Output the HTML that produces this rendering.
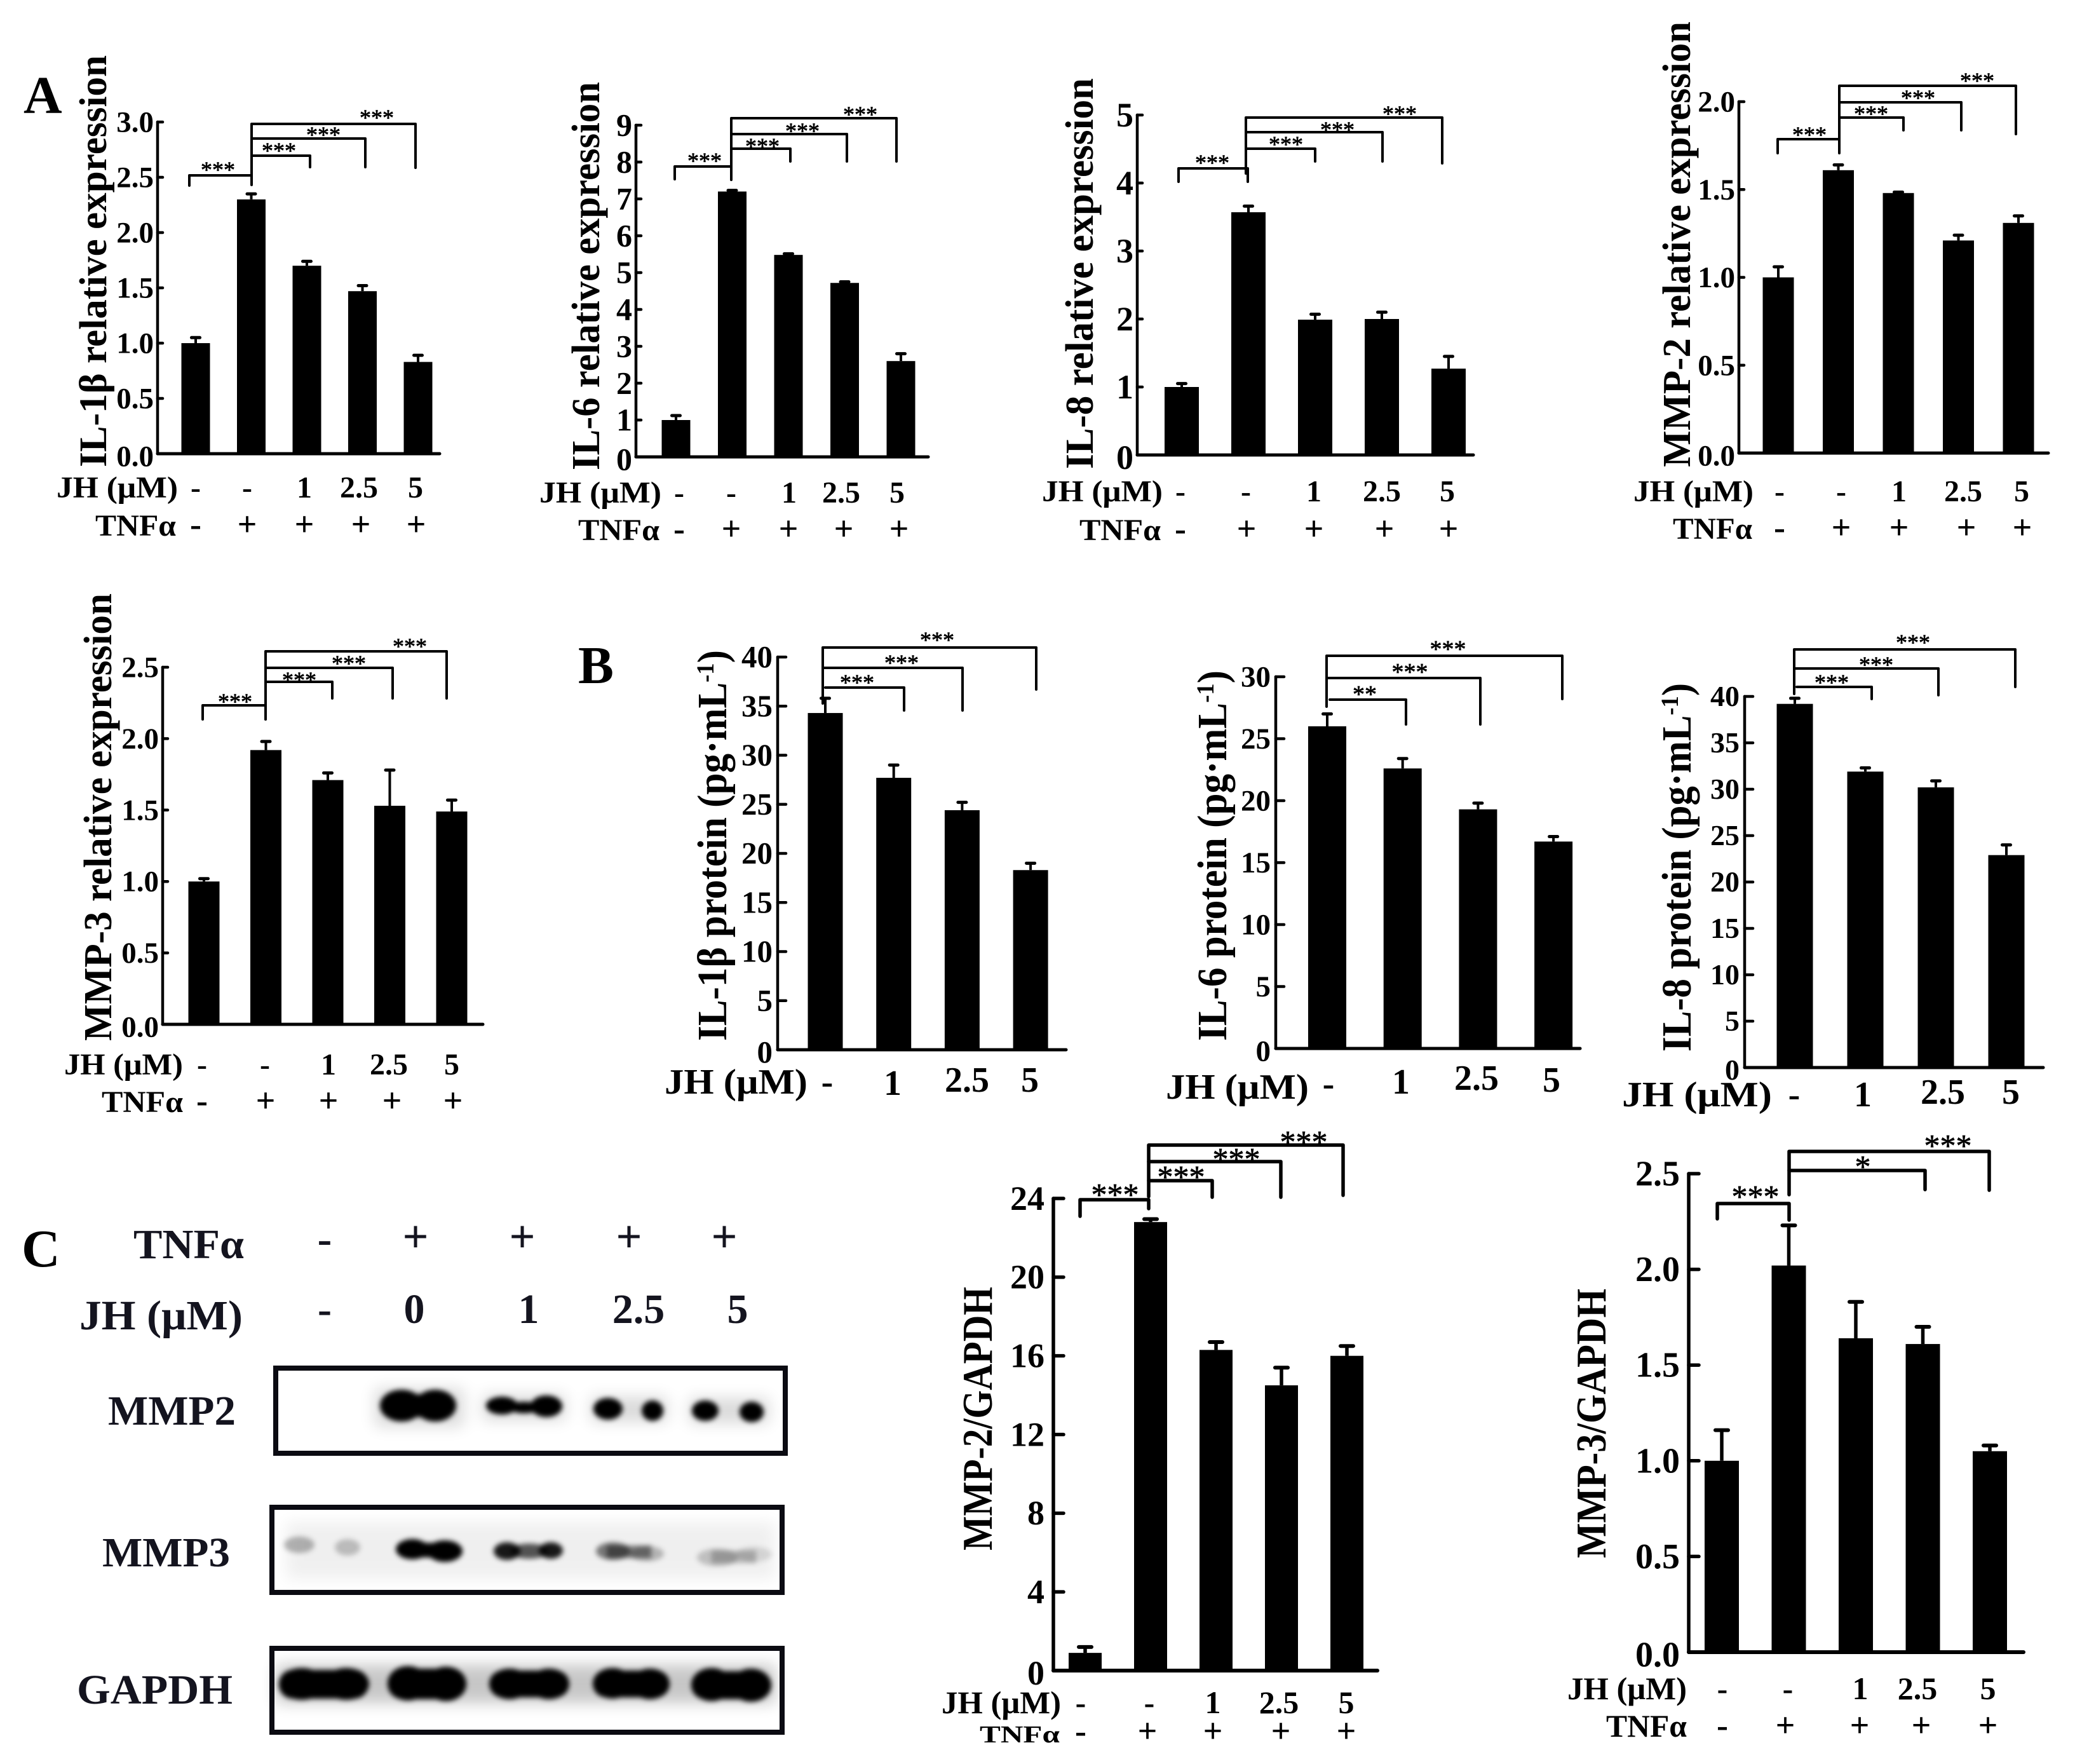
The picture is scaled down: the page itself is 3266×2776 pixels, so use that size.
<!DOCTYPE html>
<html lang="en">
<head>
<meta charset="utf-8">
<title>JH effects on cytokines and MMP expression</title>
<style>
html,body{margin:0;padding:0;background:#fff;}
svg{display:block;}
text{font-family:"Liberation Serif",serif;fill:#000;}
.b{font-weight:700;}
</style>
</head>
<body>
<svg id="figure" xmlns="http://www.w3.org/2000/svg" width="3266" height="2776" viewBox="0 0 3266 2776">
<defs>
<filter id="blur1" x="-30%" y="-60%" width="160%" height="220%"><feGaussianBlur stdDeviation="4"/></filter>
<filter id="blur2" x="-30%" y="-100%" width="160%" height="300%"><feGaussianBlur stdDeviation="12"/></filter>
</defs>
<rect width="3266" height="2776" fill="#fff"/>
<text class="b" x="37" y="178" font-size="84">A</text>
<text class="b" x="910" y="1075" font-size="84">B</text>
<text class="b" x="34" y="1993" font-size="84">C</text>

<g>
  <g>
    <text class="b" x="210" y="1980" font-size="66" textLength="174" lengthAdjust="spacingAndGlyphs" style="fill:#14141f">TNFα</text>
    <text class="b" x="125" y="2092" font-size="66" textLength="257" lengthAdjust="spacingAndGlyphs" style="fill:#14141f">JH (μM)</text>
    <text class="b" x="511" y="1972" font-size="68" text-anchor="middle" style="fill:#14141f">-</text>
    <text class="b" x="654" y="1970" font-size="72" text-anchor="middle" style="fill:#14141f">+</text>
    <text class="b" x="822" y="1970" font-size="72" text-anchor="middle" style="fill:#14141f">+</text>
    <text class="b" x="990" y="1970" font-size="72" text-anchor="middle" style="fill:#14141f">+</text>
    <text class="b" x="1140" y="1970" font-size="72" text-anchor="middle" style="fill:#14141f">+</text>
    <text class="b" x="511" y="2082" font-size="66" text-anchor="middle" style="fill:#14141f">-</text>
    <text class="b" x="652" y="2082" font-size="66" text-anchor="middle" style="fill:#14141f">0</text>
    <text class="b" x="832" y="2082" font-size="66" text-anchor="middle" style="fill:#14141f">1</text>
    <text class="b" x="1005" y="2082" font-size="66" text-anchor="middle" style="fill:#14141f">2.5</text>
    <text class="b" x="1161" y="2082" font-size="66" text-anchor="middle" style="fill:#14141f">5</text>
  </g>
  <text class="b" x="170" y="2242" font-size="66" textLength="201" lengthAdjust="spacingAndGlyphs" style="fill:#14141f">MMP2</text>
  <text class="b" x="161" y="2465" font-size="66" textLength="201" lengthAdjust="spacingAndGlyphs" style="fill:#14141f">MMP3</text>
  <text class="b" x="121" y="2681" font-size="66" textLength="245" lengthAdjust="spacingAndGlyphs" style="fill:#14141f">GAPDH</text>

  <g filter="url(#blur2)" fill="#000" opacity=".14">
    <rect x="590" y="2185" width="140" height="60"/>
    <rect x="760" y="2195" width="130" height="40"/>
    <rect x="930" y="2198" width="120" height="40"/>
    <rect x="1085" y="2200" width="125" height="40"/>
  </g>
  <g filter="url(#blur1)" fill="#060000">
    <ellipse cx="632" cy="2212" rx="34" ry="25"/>
    <ellipse cx="685" cy="2212" rx="33" ry="25"/>
    <rect x="630" y="2194" width="55" height="36"/>
    <ellipse cx="790" cy="2212" rx="25" ry="14"/>
    <ellipse cx="825" cy="2215" rx="24" ry="9"/>
    <ellipse cx="860" cy="2213" rx="25" ry="17"/>
    <ellipse cx="957" cy="2217" rx="23" ry="17"/>
    <ellipse cx="1027" cy="2220" rx="17" ry="16"/>
    <ellipse cx="1110" cy="2220" rx="21" ry="16"/>
    <ellipse cx="1183" cy="2222" rx="19" ry="16"/>
  </g>
  <g filter="url(#blur2)" fill="#000" opacity=".06">
    <rect x="450" y="2395" width="770" height="90"/>
  </g>
  <g filter="url(#blur1)" fill="#000">
    <ellipse cx="471" cy="2431" rx="24" ry="13" opacity=".28"/>
    <ellipse cx="547" cy="2435" rx="20" ry="13" opacity=".22"/>
    <ellipse cx="649" cy="2438" rx="26" ry="16"/>
    <ellipse cx="700" cy="2441" rx="28" ry="17"/>
    <rect x="648" y="2428" width="52" height="23"/>
    <ellipse cx="833" cy="2441" rx="30" ry="12" opacity=".65"/>
    <ellipse cx="798" cy="2441" rx="21" ry="14" opacity=".9"/>
    <ellipse cx="867" cy="2440" rx="19" ry="13" opacity=".9"/>
    <rect x="955" y="2432" width="70" height="20" opacity=".45"/>
    <ellipse cx="965" cy="2441" rx="27" ry="14" opacity=".5"/>
    <ellipse cx="1018" cy="2445" rx="27" ry="12" opacity=".25"/>
    <rect x="1120" y="2440" width="70" height="20" opacity=".22"/>
    <ellipse cx="1129" cy="2451" rx="32" ry="14" opacity=".2"/>
    <ellipse cx="1187" cy="2446" rx="28" ry="12" opacity=".12"/>
  </g>
  <g filter="url(#blur2)" fill="#000" opacity=".22">
    <rect x="435" y="2620" width="785" height="60"/>
  </g>
  <g filter="url(#blur1)" fill="#000">
    <rect x="439" y="2628" width="141" height="45" rx="22"/>
    <ellipse cx="545" cy="2650" rx="36" ry="25"/>
    <ellipse cx="475" cy="2650" rx="36" ry="25"/>
    <rect x="610" y="2626" width="124" height="48" rx="24"/>
    <ellipse cx="642" cy="2649" rx="32" ry="27"/>
    <ellipse cx="702" cy="2650" rx="32" ry="27"/>
    <rect x="770" y="2629" width="126" height="42" rx="21"/>
    <ellipse cx="802" cy="2650" rx="32" ry="24"/>
    <ellipse cx="864" cy="2650" rx="32" ry="24"/>
    <rect x="933" y="2629" width="121" height="42" rx="21"/>
    <ellipse cx="964" cy="2649" rx="31" ry="24"/>
    <ellipse cx="1023" cy="2650" rx="31" ry="24"/>
    <rect x="1088" y="2630" width="126" height="44" rx="22"/>
    <ellipse cx="1120" cy="2651" rx="32" ry="26"/>
    <ellipse cx="1182" cy="2652" rx="32" ry="26"/>
  </g>
  <rect x="434" y="2153" width="802" height="134" fill="none" stroke="#0b0b12" stroke-width="8"/>
  <rect x="428" y="2372" width="803" height="134" fill="none" stroke="#0b0b12" stroke-width="8"/>
  <rect x="428" y="2594" width="803" height="132" fill="none" stroke="#0b0b12" stroke-width="8"/>
</g>
<g id="charts"></g>
</svg>
<script>
// ---- chart data ----
const jhLabelsMrna = ['-', '-', '1', '2.5', '5'];
const tnfLabelsMrna = ['-', '+', '+', '+', '+'];
const jhLabelsProtein = ['-', '1', '2.5', '5'];

const ticksIl1bMrna = ['0.0', '0.5', '1.0', '1.5', '2.0', '2.5', '3.0'];
const valuesIl1bMrna = [1.0, 2.3, 1.7, 1.47, 0.83];
const errorsIl1bMrna = [0.05, 0.05, 0.04, 0.05, 0.06];

const ticksIl6Mrna = ['0', '1', '2', '3', '4', '5', '6', '7', '8', '9'];
const valuesIl6Mrna = [1.0, 7.2, 5.48, 4.72, 2.6];
const errorsIl6Mrna = [0.12, 0.03, 0.03, 0.03, 0.2];

const ticksIl8Mrna = ['0', '1', '2', '3', '4', '5'];
const valuesIl8Mrna = [1.0, 3.57, 1.99, 2.0, 1.27];
const errorsIl8Mrna = [0.05, 0.09, 0.08, 0.1, 0.18];

const ticksMmp2Mrna = ['0.0', '0.5', '1.0', '1.5', '2.0'];
const valuesMmp2Mrna = [1.0, 1.61, 1.48, 1.21, 1.31];
const errorsMmp2Mrna = [0.06, 0.03, 0.005, 0.03, 0.04];

const ticksMmp3Mrna = ['0.0', '0.5', '1.0', '1.5', '2.0', '2.5'];
const valuesMmp3Mrna = [1.0, 1.92, 1.71, 1.53, 1.49];
const errorsMmp3Mrna = [0.02, 0.06, 0.05, 0.25, 0.08];

const ticksIl1bProtein = ['0', '5', '10', '15', '20', '25', '30', '35', '40'];
const valuesIl1bProtein = [34.3, 27.7, 24.4, 18.3];
const errorsIl1bProtein = [1.5, 1.3, 0.8, 0.7];

const ticksIl6Protein = ['0', '5', '10', '15', '20', '25', '30'];
const valuesIl6Protein = [26.0, 22.6, 19.3, 16.7];
const errorsIl6Protein = [1.0, 0.8, 0.5, 0.4];

const ticksIl8Protein = ['0', '5', '10', '15', '20', '25', '30', '35', '40'];
const valuesIl8Protein = [39.2, 31.9, 30.2, 22.9];
const errorsIl8Protein = [0.6, 0.4, 0.7, 1.1];

const ticksMmp2Blot = ['0', '4', '8', '12', '16', '20', '24'];
const valuesMmp2Blot = [0.9, 22.8, 16.3, 14.5, 16.0];
const errorsMmp2Blot = [0.3, 0.15, 0.4, 0.9, 0.5];

const ticksMmp3Blot = ['0.0', '0.5', '1.0', '1.5', '2.0', '2.5'];
const valuesMmp3Blot = [1.0, 2.02, 1.64, 1.61, 1.05];
const errorsMmp3Blot = [0.16, 0.21, 0.19, 0.09, 0.03];

// ---- drawing helpers ----
const NS = 'http://www.w3.org/2000/svg';
const root = document.getElementById('charts');
function make(tag, props, parent) {
  const node = document.createElementNS(NS, tag);
  for (const key in props) node.setAttribute(key, props[key]);
  parent.appendChild(node);
  return node;
}
function stroke(w) {
  return { stroke: '#000', 'stroke-width': w, fill: 'none', 'stroke-linecap': 'round', 'stroke-linejoin': 'round' };
}

function drawPanel(p) {
  const g = make('g', {}, root);
  
  

  const yMax = Number(p.ticks[p.ticks.length - 1]);
  const yScale = v => p.y0 - (v / yMax) * (p.y0 - p.yTop);
  const xScale = i => p.x0 + p.step * i;
  const axisW = p.axisW || 4.5;
  const tickLen = p.tickLen || 8;
  const tickF = p.tickF || 47;
  const labelGap = p.labelGap || 6;
  const capHalf = p.capHalf || 6.5;

  // y axis
  const yAxis = make('line', Object.assign({ x1: p.ax, x2: p.ax, y1: p.yTop, y2: p.y0 }, stroke(axisW)), g);
  
  

  // x axis
  const xAxis = make('line', Object.assign({ x1: p.ax, x2: p.axEnd, y1: p.y0, y2: p.y0 }, stroke(axisW + 0.5)), g);
  
  

  // ticks
  p.ticks.forEach(t => {
    const y = yScale(Number(t));
    const mark = make('line', Object.assign({ x1: p.ax, x2: p.ax + tickLen, y1: y, y2: y }, stroke(axisW)), g);
    
    
    const zeroDrop = Number(t) === 0 ? 4 : 0;
    const lab = make('text', { x: p.ax - labelGap, y: y + tickF * 0.33 + zeroDrop, 'font-size': tickF, 'font-weight': 700, 'text-anchor': 'end' }, g);
    lab.textContent = t;
    
    
  });

  // bars and error bars
  p.values.forEach((v, i) => {
    const cx = xScale(i);
    const top = yScale(v);
    const bar = make('rect', { x: cx - p.barW / 2, y: top, width: p.barW, height: p.y0 - top, fill: '#000' }, g);
    
    
    const errTop = yScale(v + p.errors[i]);
    const stem = make('line', { x1: cx, x2: cx, y1: top, y2: errTop, stroke: '#000', 'stroke-width': p.stemW || 4 }, g);
    
    
    const cap = make('line', Object.assign({ x1: cx - capHalf, x2: cx + capHalf, y1: errTop, y2: errTop }, stroke(p.capW || 5)), g);
    
    
  });

  // significance brackets (annotation layout)
  p.brackets.forEach(b => {
    const path = make('path', Object.assign({ d: 'M' + b[0] + ' ' + b[3] + 'V' + b[2] + 'H' + b[1] + 'V' + b[4] }, stroke(p.brW || 4)), g);
    
    
    const F = p.starF || 36;
    const star = make('text', { x: b[6], y: b[7] + F * 0.47, 'font-size': F, 'text-anchor': 'middle', stroke: '#000', 'stroke-width': 0.7 }, g);
    star.textContent = b[5];
    
    
  });

  // y title
  const title = make('text', {
    transform: 'translate(' + p.title[0] + ' ' + p.title[1] + ') rotate(-90)',
    'font-size': p.title[2], 'font-weight': 700,
    textLength: p.title[3], lengthAdjust: 'spacingAndGlyphs'
  }, g);
  
  
  title.appendChild(document.createTextNode(p.titleText));
  if (p.titleSup) {
    const sup = make('tspan', { dy: -20, 'font-size': p.title[2] * 0.6 }, title);
    sup.textContent = '-1';
    const close = make('tspan', { dy: 20 }, title);
    close.textContent = ')';
  }

  // JH row
  const F = p.rowF || 48;
  const jhHead = make('text', { x: p.jh[0], y: p.jh[2], 'font-size': F, 'font-weight': 700, textLength: p.jh[1] - p.jh[0], lengthAdjust: 'spacingAndGlyphs' }, g);
  jhHead.textContent = 'JH (μM)';
  
  
  p.jhLabels.forEach((t, i) => {
    const lab = make('text', { x: p.jhX[i], y: p.jh[2] - (p.jhLift ? p.jhLift[i] : 0), 'font-size': F, 'font-weight': 700, 'text-anchor': 'middle' }, g);
    lab.textContent = t;
    
    
  });

  // TNF row
  if (p.tnf) {
    const tF = p.tnfF || F;
    const tnfHead = make('text', { x: p.tnf[0], y: p.tnf[2], 'font-size': tF, 'font-weight': 700, textLength: p.tnf[1] - p.tnf[0], lengthAdjust: 'spacingAndGlyphs' }, g);
    tnfHead.textContent = 'TNFα';
    
    
    tnfLabelsMrna.forEach((t, i) => {
      const lab = make('text', { x: p.tnfX[i], y: p.tnf[2], 'font-size': 54, 'font-weight': 700, 'text-anchor': 'middle' }, g);
      lab.textContent = t;
      
      
    });
  }
}

// ---- panels ----
drawPanel({ name: 'il1b-mrna', ticks: ticksIl1bMrna, values: valuesIl1bMrna, errors: errorsIl1bMrna, jhLabels: jhLabelsMrna,
  ax: 248, axEnd: 692, y0: 714, yTop: 192, x0: 308, step: 87.5, barW: 45,
  brackets: [[298,396,276,292,291,'***',343,262],[396,488,245,245,263,'***',439,232],[396,575,218,218,263,'***',509,207],[396,654,195,280,264,'***',593,180]],
  titleText: 'IL-1β relative expression', title: [167,735,61,648],
  jh: [89,280,783], jhX: [308,389,479,565,654], tnf: [150,277,843], tnfX: [308,389,479,568,655] });

drawPanel({ name: 'il6-mrna', ticks: ticksIl6Mrna, values: valuesIl6Mrna, errors: errorsIl6Mrna, jhLabels: jhLabelsMrna,
  ax: 1001, axEnd: 1461, y0: 719, yTop: 197, x0: 1064, step: 88.5, barW: 45, tickF: 50,
  brackets: [[1062,1151,262,282,283,'***',1109,248],[1151,1244,234,234,254,'***',1200,225],[1151,1333,211,211,254,'***',1263,201],[1151,1411,186,270,254,'***',1354,175]],
  titleText: 'IL-6 relative expression', title: [943,740,62,611],
  jh: [849,1041,791], jhX: [1069,1151,1242,1324,1412], tnf: [910,1038,850], tnfX: [1069,1151,1241,1328,1415] });

drawPanel({ name: 'il8-mrna', ticks: ticksIl8Mrna, values: valuesIl8Mrna, errors: errorsIl8Mrna, jhLabels: jhLabelsMrna,
  ax: 1790, axEnd: 2319, y0: 716, yTop: 181, x0: 1860, step: 105, barW: 54, tickF: 54,
  brackets: [[1855,1964,265,286,286,'***',1908,251],[1961,2070,234,234,254,'***',2024,222],[1961,2176,208,208,254,'***',2105,199],[1961,2270,185,273,257,'***',2203,174]],
  titleText: 'IL-8 relative expression', title: [1720,738,62,615],
  jh: [1640,1830,789], jhX: [1858,1961,2068,2175,2278], tnf: [1699,1827,850], tnfX: [1858,1962,2068,2179,2280] });

drawPanel({ name: 'mmp2-mrna', ticks: ticksMmp2Mrna, values: valuesMmp2Mrna, errors: errorsMmp2Mrna, jhLabels: jhLabelsMrna,
  ax: 2737, axEnd: 3224, y0: 713, yTop: 160, x0: 2799, step: 94.5, barW: 49,
  brackets: [[2798,2895,219,241,241,'***',2848,207],[2895,2996,185,185,205,'***',2945,174],[2895,3087,161,161,205,'***',3019,149],[2895,3173,135,240,211,'***',3112,122]],
  titleText: 'MMP-2 relative expression', title: [2660,735,62,701],
  jh: [2571,2760,789], jhX: [2801,2898,2989,3090,3182], tnf: [2633,2758,848], tnfX: [2801,2898,2989,3095,3183] });

drawPanel({ name: 'mmp3-mrna', ticks: ticksMmp3Mrna, values: valuesMmp3Mrna, errors: errorsMmp3Mrna, jhLabels: jhLabelsMrna,
  ax: 256, axEnd: 760, y0: 1612, yTop: 1050, x0: 321, step: 97.5, barW: 49,
  brackets: [[319,418,1110,1132,1132,'***',370,1099],[418,523,1073,1073,1099,'***',471,1065],[418,618,1051,1051,1099,'***',549,1039],[418,703,1025,1132,1099,'***',645,1012]],
  titleText: 'MMP-3 relative expression', title: [175,1638,62,704],
  jh: [101,288,1691], jhX: [318,417,517,612,711], tnf: [160,288,1750], tnfX: [318,418,517,617,713] });

drawPanel({ name: 'il1b-protein', ticks: ticksIl1bProtein, values: valuesIl1bProtein, errors: errorsIl1bProtein, jhLabels: jhLabelsProtein,
  ax: 1224, axEnd: 1678, y0: 1652, yTop: 1034, x0: 1299, step: 107.7, barW: 55, tickF: 49, tickLen: 13, labelGap: 8,
  brackets: [[1299,1423,1082,1082,1118,'***',1349,1069],[1295,1515,1051,1051,1118,'***',1419,1038],[1295,1631,1019,1107,1085,'***',1475,1002]],
  titleText: 'IL-1β protein (pg·mL', titleSup: true, title: [1143,1638,66,615],
  rowF: 56, jh: [1046,1271,1721], jhX: [1302,1405,1522,1621], jhLift: [0,-2,3,3] });

drawPanel({ name: 'il6-protein', ticks: ticksIl6Protein, values: valuesIl6Protein, errors: errorsIl6Protein, jhLabels: jhLabelsProtein,
  ax: 2008, axEnd: 2487, y0: 1650, yTop: 1065, x0: 2089, step: 118.7, barW: 60, tickF: 47, tickLen: 13, labelGap: 8, starF: 38,
  brackets: [[2093,2213,1101,1101,1140,'**',2148,1087],[2088,2330,1067,1067,1140,'***',2219,1052],[2088,2459,1032,1112,1100,'***',2279,1016]],
  titleText: 'IL-6 protein (pg·mL', titleSup: true, title: [1930,1638,66,583],
  rowF: 56, jh: [1835,2060,1729], jhX: [2091,2205,2324,2442], jhLift: [5,8,14,11] });

drawPanel({ name: 'il8-protein', ticks: ticksIl8Protein, values: valuesIl8Protein, errors: errorsIl8Protein, jhLabels: jhLabelsProtein,
  ax: 2746, axEnd: 3216, y0: 1680, yTop: 1096, x0: 2825, step: 111, barW: 57, tickF: 46, tickLen: 13, labelGap: 8,
  brackets: [[2828,2946,1081,1081,1100,'***',2883,1069],[2824,3051,1052,1052,1094,'***',2953,1041],[2824,3172,1022,1092,1081,'***',3011,1006]],
  titleText: 'IL-8 protein (pg·mL', titleSup: true, title: [2661,1655,66,580],
  rowF: 56, jh: [2553,2789,1741], jhX: [2824,2932,3058,3165], jhLift: [0,0,4,4] });

drawPanel({ name: 'mmp2-gapdh', ticks: ticksMmp2Blot, values: valuesMmp2Blot, errors: errorsMmp2Blot, jhLabels: jhLabelsMrna,
  ax: 1658, axEnd: 2168, y0: 2629, yTop: 1886, x0: 1708, step: 103, barW: 52, tickF: 54, tickLen: 16, labelGap: 14, axisW: 5.5, stemW: 5.5, capHalf: 10, capW: 6, starF: 50, brW: 5.5,
  brackets: [[1700,1808,1888,1914,1902,'***',1755,1873],[1808,1908,1858,1858,1884,'***',1859,1845],[1808,2016,1828,1828,1884,'***',1946,1817],[1808,2114,1802,1883,1881,'***',2052,1790]],
  titleText: 'MMP-2/GAPDH', title: [1561,2440,67,415],
  rowF: 50, jh: [1482,1670,2696], jhX: [1701,1809,1909,2013,2119], tnfF: 38, tnf: [1542,1668,2742], tnfX: [1701,1806,1909,2016,2119] });

drawPanel({ name: 'mmp3-gapdh', ticks: ticksMmp3Blot, values: valuesMmp3Blot, errors: errorsMmp3Blot, jhLabels: jhLabelsMrna,
  ax: 2658, axEnd: 3185, y0: 2600, yTop: 1847, x0: 2710, step: 105.5, barW: 54, tickF: 56, tickLen: 16, labelGap: 14, axisW: 5.5, stemW: 5.5, capHalf: 10, capW: 6, starF: 50, brW: 5.5,
  brackets: [[2703,2816,1894,1918,1920,'***',2763,1876],[2816,3030,1842,1842,1872,'*',2932,1829],[2816,3131,1812,1880,1873,'***',3066,1796]],
  titleText: 'MMP-3/GAPDH', title: [2527,2452,67,424],
  rowF: 50, jh: [2467,2655,2674], jhX: [2711,2814,2928,3018,3129], tnf: [2528,2655,2733], tnfX: [2711,2810,2927,3024,3129] });
</script>
</body>
</html>
